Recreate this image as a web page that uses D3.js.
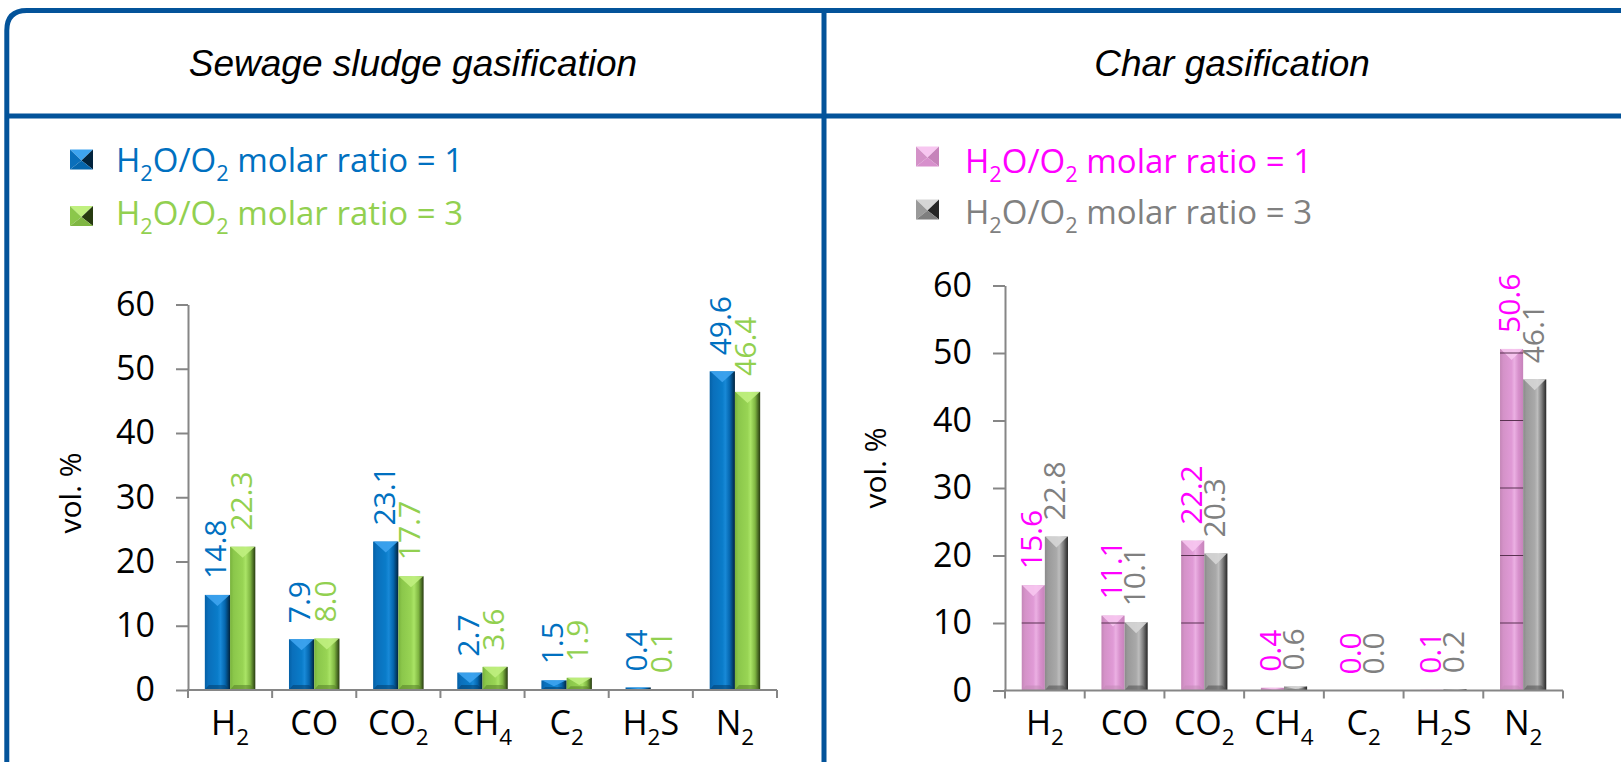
<!DOCTYPE html>
<html>
<head>
<meta charset="utf-8">
<script src="https://cdn.jsdelivr.net/npm/d3@7"></script>
<style>
  body { margin: 0; background: #fff; }
  svg { display: block; }
</style>
</head>
<body>
<svg id="chart" width="1621" height="762"></svg>
<script>
// ---- data ----
const categories = ["H_2", "CO", "CO_2", "CH_4", "C_2", "H_2S", "N_2"];
const sludgeRatio1 = [14.8, 7.9, 23.1, 2.7, 1.5, 0.4, 49.6];
const sludgeRatio3 = [22.3, 8.0, 17.7, 3.6, 1.9, 0.1, 46.4];
const charRatio1 = [15.6, 11.1, 22.2, 0.4, 0.0, 0.1, 50.6];
const charRatio3 = [22.8, 10.1, 20.3, 0.6, 0.0, 0.2, 46.1];
const yTicks = [0, 10, 20, 30, 40, 50, 60];
const seriesNames = ["H_2O/O_2 molar ratio = 1", "H_2O/O_2 molar ratio = 3"];
const panelTitles = ["Sewage sludge gasification", "Char gasification"];
const yTitle = "vol. %";

// ---- styles ----
const FRAME = "#03539a";
const AXIS = "#868686";
const SANS = "'Open Sans', Lato, sans-serif";

const palettes = {
  blue:  { stops: ["#0460a6", "#0a6fbb", "#0a7cc9", "#1889d7", "#0566ae", "#01233d"], top: "#3ea4f0", bottom: "#03406f", text: "#0070c0" },
  green: { stops: ["#78b23c", "#8bc74b", "#98d454", "#aae466", "#7fb642", "#273b10"], top: "#c0f07f", bottom: "#557f28", text: "#92d050" },
  pink:  { stops: ["#c486b7", "#d492c8", "#e09ad6", "#ebb0e3", "#d790cc", "#c683ba"], top: "#f7c6f0", bottom: "#c28ab6", text: "#ff00ff" },
  gray:  { stops: ["#8a8a8a", "#9a9a9a", "#a9a9a9", "#bdbdbd", "#7e7e7e", "#262626"], top: "#d6d6d6", bottom: "#505050", text: "#808080" }
};

const panels = [
  {
    title: panelTitles[0], titleX: 413,
    series: [sludgeRatio1, sludgeRatio3], pals: ["blue", "green"],
    x0: 188, x1: 777, yBase: 690, yTop: 304.5, padInner: 0.4,
    yTitleX: 70, yTitleY: 493,
    legend: { mx: 70, tx: 116, rows: [{ my: 159.5, ty: 172 }, { my: 216, ty: 225 }] },
    gridThrough: false
  },
  {
    title: panelTitles[1], titleX: 1232,
    series: [charRatio1, charRatio3], pals: ["pink", "gray"],
    x0: 1005, x1: 1563, yBase: 690.5, yTop: 285.5, padInner: 0.42,
    yTitleX: 875, yTitleY: 468,
    legend: { mx: 916, tx: 965, rows: [{ my: 156.5, ty: 172.5 }, { my: 209.5, ty: 224 }] },
    gridThrough: true
  }
];

const svg = d3.select("#chart");
const defs = svg.append("defs");

// horizontal shading for the bevelled bars
Object.entries(palettes).forEach(([key, p]) => {
  const g = defs.append("linearGradient").attr("id", "grad-" + key)
    .attr("x1", "0").attr("x2", "1").attr("y1", "0").attr("y2", "0");
  [0, 0.14, 0.5, 0.62, 0.8, 1].forEach((o, i) =>
    g.append("stop").attr("offset", o).attr("stop-color", p.stops[i]));
});

// text with "_x" marking a subscript character
function richText(sel, str, size) {
  const parts = [];
  let buf = "";
  for (let i = 0; i < str.length; i++) {
    if (str[i] === "_") {
      if (buf) parts.push({ t: buf, sub: false });
      buf = "";
      parts.push({ t: str[i + 1], sub: true });
      i++;
    } else buf += str[i];
  }
  if (buf) parts.push({ t: buf, sub: false });
  const shift = size * 0.28;
  let cur = 0;
  parts.forEach(p => {
    const target = p.sub ? shift : 0;
    sel.append("tspan")
      .attr("dy", target - cur)
      .style("font-size", (p.sub ? size * 0.66 : size) + "px")
      .text(p.t);
    cur = target;
  });
}

// bevelled bar: shaded body, light top facet, darker bottom facet
function bevelBar(g, x, y, w, h, key) {
  const p = palettes[key];
  g.append("rect").attr("x", x).attr("y", y).attr("width", w).attr("height", Math.max(h, 0))
    .attr("fill", `url(#grad-${key})`);
  if (h <= 0.5) return;
  const bt = Math.min(11, h * 0.6);
  const bb = Math.min(5, h * 0.3);
  g.append("polygon")
    .attr("points", [[x + 0.5, y], [x + w - 0.5, y], [x + w / 2, y + bt]].map(d => d.join(",")).join(" "))
    .attr("fill", p.top).attr("opacity", 0.9);
  g.append("polygon")
    .attr("points", [[x, y + h], [x + w, y + h], [x + w - 5, y + h - bb], [x + 4, y + h - bb]].map(d => d.join(",")).join(" "))
    .attr("fill", p.bottom).attr("opacity", 0.55);
}

// pyramid-shaped legend marker
function legendMarker(g, cx, cy, key) {
  const p = palettes[key];
  const w = 23, h = 20, x = cx - w / 2, y = cy - h / 2;
  const c = [cx, cy + 1];
  const tri = (pts, fill) => g.append("polygon").attr("points", pts.map(d => d.join(",")).join(" ")).attr("fill", fill);
  tri([[x, y], [x + w, y], c], p.top);
  tri([[x, y], c, [x, y + h]], p.stops[1]);
  tri([[x + w, y], [x + w, y + h], c], p.stops[5]);
  tri([[x, y + h], [x + w, y + h], c], p.stops[4]);
}

// ---- frame ----
const frame = svg.append("g").attr("fill", "none").attr("stroke", FRAME).attr("stroke-width", 5);
const r = 20, fl = 6.8, ft = 10.5;
frame.append("path").attr("d", `M${fl},780 L${fl},${ft + r} Q${fl},${ft} ${fl + r},${ft} L1650,${ft}`);
frame.append("line").attr("x1", fl).attr("x2", 1650).attr("y1", 116).attr("y2", 116);
frame.append("line").attr("x1", 824).attr("x2", 824).attr("y1", ft).attr("y2", 780);

// ---- panels ----
panels.forEach((pn, pi) => {
  const g = svg.append("g");

  g.append("text").attr("x", pn.titleX).attr("y", 76)
    .attr("text-anchor", "middle")
    .style("font-family", "'Liberation Sans', Arial, sans-serif")
    .style("font-style", "italic").style("font-size", "37px")
    .text(pn.title);

  // legend
  pn.legend.rows.forEach((row, si) => {
    legendMarker(g, pn.legend.mx + 11.5, row.my, pn.pals[si]);
    const t = g.append("text").attr("x", pn.legend.tx).attr("y", row.ty)
      .style("font-family", SANS).attr("fill", palettes[pn.pals[si]].text);
    richText(t, seriesNames[si], 33);
  });

  const y = d3.scaleLinear().domain([0, 60]).range([pn.yBase, pn.yTop]);
  const x = d3.scaleBand().domain(categories).range([pn.x0, pn.x1])
    .paddingInner(pn.padInner).paddingOuter(pn.padInner / 2);
  const xs = d3.scaleBand().domain([0, 1]).range([0, x.bandwidth()]);

  // bars
  const barsG = g.append("g");
  const clipId = "pinkclip-" + pi;
  const clip = defs.append("clipPath").attr("id", clipId);
  pn.series.forEach((vals, si) => {
    vals.forEach((v, ci) => {
      const bx = x(categories[ci]) + xs(si);
      const bw = xs.bandwidth();
      const by = y(v);
      bevelBar(barsG, bx, by, bw, pn.yBase - by, pn.pals[si]);
      if (si === 0) clip.append("rect").attr("x", bx).attr("y", by).attr("width", bw).attr("height", pn.yBase - by);
    });
  });

  // horizontal grid showing through the translucent first series
  if (pn.gridThrough) {
    g.append("g").attr("clip-path", `url(#${clipId})`)
      .selectAll("line").data(yTicks.filter(d => d > 0)).join("line")
      .attr("x1", pn.x0).attr("x2", pn.x1)
      .attr("y1", d => y(d)).attr("y2", d => y(d))
      .attr("stroke", "#5a3252").attr("stroke-width", 1.2);
  }

  // value labels
  pn.series.forEach((vals, si) => {
    g.append("g").selectAll("text").data(vals).join("text")
      .attr("transform", (v, ci) => {
        const cx = x(categories[ci]) + xs(si) + xs.bandwidth() / 2 - 2;
        return `translate(${cx},${y(v) - 16}) rotate(-90)`;
      })
      .attr("dy", "0.36em")
      .style("font-family", SANS).style("font-size", "30px")
      .attr("fill", palettes[pn.pals[si]].text)
      .text(v => d3.format(".1f")(v));
  });

  // y axis
  const yAxis = g.append("g").attr("transform", `translate(${pn.x0},0)`)
    .call(d3.axisLeft(y).tickValues(yTicks).tickSize(12).tickSizeOuter(0).tickPadding(21).tickFormat(d3.format("d")));
  yAxis.select(".domain").attr("stroke", AXIS).attr("stroke-width", 2);
  yAxis.selectAll(".tick line").attr("stroke", AXIS).attr("stroke-width", 2);
  yAxis.selectAll(".tick text").style("font-family", SANS).style("font-size", "34px").attr("fill", "#000");

  // x axis with ticks on category boundaries
  const xa = g.append("g").attr("stroke", AXIS).attr("stroke-width", 2);
  xa.append("line").attr("x1", pn.x0 - 1).attr("x2", pn.x1).attr("y1", pn.yBase).attr("y2", pn.yBase);
  d3.range(categories.length + 1).forEach(i => {
    const bx = pn.x0 + i * x.step();
    xa.append("line").attr("x1", bx).attr("x2", bx).attr("y1", pn.yBase).attr("y2", pn.yBase + 8);
  });
  categories.forEach(c => {
    const t = g.append("text").attr("x", x(c) + x.bandwidth() / 2).attr("y", 735)
      .attr("text-anchor", "middle").style("font-family", SANS).attr("fill", "#000");
    richText(t, c, 34);
  });

  g.append("text")
    .attr("transform", `translate(${pn.yTitleX},${pn.yTitleY}) rotate(-90)`)
    .attr("text-anchor", "middle").attr("dy", "0.36em")
    .style("font-family", SANS).style("font-size", "30px")
    .text(yTitle);
});
</script>
</body>
</html>
